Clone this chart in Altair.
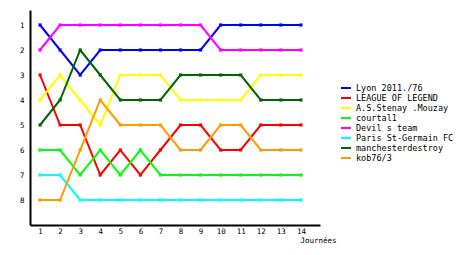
import altair as alt
import pandas as pd

teams = ["Lyon 2011./76", "LEAGUE OF LEGEND", "A.S.Stenay .Mouzay", "courtal1",
         "Devil s team", "Paris St-Germain FC", "manchesterdestroy", "kob76/3"]
colors = ["#0000FF", "#FF0000", "#FFFF00", "#00FF00", "#FF00FF", "#00FFFF", "#006600", "#FF9900"]
journees = list(range(1, 15))

lyon = [1, 2, 3, 2, 2, 2, 2, 2, 2, 1, 1, 1, 1, 1]
league = [3, 5, 5, 7, 6, 7, 6, 5, 5, 6, 6, 5, 5, 5]
stenay = [4, 3, 4, 5, 3, 3, 3, 4, 4, 4, 4, 3, 3, 3]
courtal = [6, 6, 7, 6, 7, 6, 7, 7, 7, 7, 7, 7, 7, 7]
devil = [2, 1, 1, 1, 1, 1, 1, 1, 1, 2, 2, 2, 2, 2]
paris = [7, 7, 8, 8, 8, 8, 8, 8, 8, 8, 8, 8, 8, 8]
manchester = [5, 4, 2, 3, 4, 4, 4, 3, 3, 3, 3, 4, 4, 4]
kob = [8, 8, 6, 4, 5, 5, 5, 6, 6, 5, 5, 6, 6, 6]

series = [lyon, league, stenay, courtal, devil, paris, manchester, kob]
rows = []
for t, vals in zip(teams, series):
    for j, v in zip(journees, vals):
        rows.append({"team": t, "j": j, "rank": v})
df = pd.DataFrame(rows)

font = "DejaVu Sans Mono"
color = alt.Color("team:N", scale=alt.Scale(domain=teams, range=colors),
                  legend=alt.Legend(title=None, orient="none", legendX=310, legendY=73,
                                    symbolType="stroke", symbolStrokeWidth=2, symbolSize=100,
                                    labelFont=font, labelFontSize=8.5, labelColor="black",
                                    rowPadding=0, clipHeight=10, labelOffset=4,
                                    symbolOffset=0, padding=0))

x = alt.X("j:Q", scale=alt.Scale(domain=[0.5, 14.95], nice=False, zero=False),
          axis=alt.Axis(values=journees, format="d", grid=False, ticks=False, labelPadding=2,
                        domainColor="black", domainWidth=2, labelFont=font, labelFontSize=7.5,
                        labelColor="black", title="Journées", titleFont=font, titleFontSize=7.5,
                        titleFontWeight="normal", titleColor="black", titleAlign="left",
                        titleBaseline="top", titleX=270, titleY=11))
y = alt.Y("rank:Q", scale=alt.Scale(domain=[0.4, 9], reverse=True, nice=False, zero=False),
          axis=alt.Axis(values=list(range(1, 9)), format="d", grid=False, ticks=False,
                        labelPadding=6, domainColor="black", domainWidth=2, labelFont=font,
                        labelFontSize=7.5, labelColor="black", title=None))

base = alt.Chart(df)
lines = base.mark_line(strokeWidth=2, interpolate="linear").encode(x=x, y=y, color=color,
                                                                    detail="team:N")
pts = base.mark_point(shape="square", filled=True, size=10, opacity=1).encode(
    x=x, y=y, color=alt.Color("team:N", scale=alt.Scale(domain=teams, range=colors), legend=None))

chart = alt.layer(lines, pts).properties(
    width=290, height=215,
    autosize=alt.AutoSizeParams(type="none"),
    padding={"left": 30, "top": 10, "right": 140, "bottom": 30},
    background="white"
).configure_view(stroke=None)

chart.save("out.html", embed_options={"renderer": "svg", "actions": False})
